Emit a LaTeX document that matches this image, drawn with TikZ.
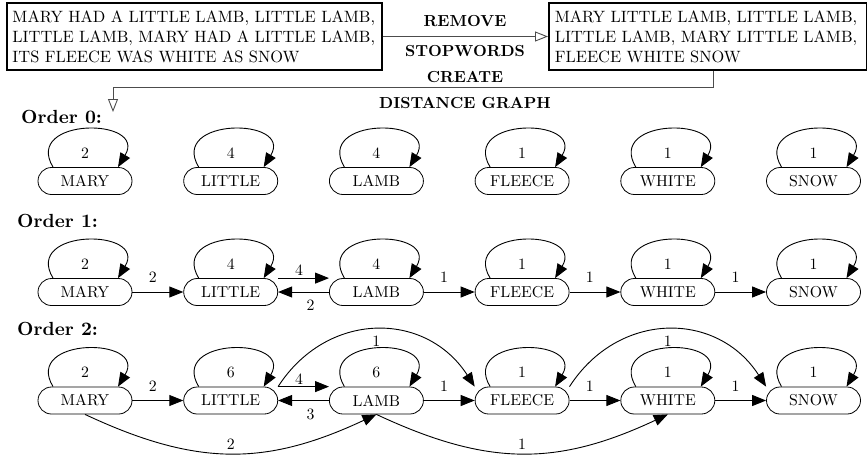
\documentclass[tikz,border=0pt]{standalone}
\usepackage{fontspec}
\setmainfont{lmroman10-regular.otf}[BoldFont=lmroman10-bold.otf]
\usetikzlibrary{arrows.meta}
\newcommand\selfloop[2]{%
  \draw[edge] ([xshift=-32pt]#1.north) .. controls +(-30,-50) and +(30,-50) .. ([xshift=33pt]#1.north);
  \node[lab] at ([yshift=28pt]#1.center) {#2};}
\begin{document}
\begin{tikzpicture}[x=1pt,y=-1pt,
  wn/.style={draw, line width=0.8pt, rounded corners=13.5pt, minimum width=94pt, minimum height=27pt, inner sep=0pt, font=\fontsize{15.8}{19}\selectfont},
  edge/.style={line width=0.9pt, -{Triangle[length=14pt,width=11pt]}},
  lab/.style={font=\fontsize{15.8}{19}\selectfont, inner sep=0pt},
  ord/.style={font=\fontsize{19}{22}\selectfont\bfseries, anchor=west, inner sep=0pt},
  stepl/.style={font=\fontsize{16}{19}\selectfont\bfseries, inner sep=0pt},
  tbox/.style={draw, line width=1.8pt, align=left, minimum height=67pt, font=\fontsize{16.4}{20}\selectfont},
  flow/.style={draw=black!70, line width=0.9pt, -{Triangle[open,length=13pt,width=10pt]}}
]
\useasboundingbox (0,0) rectangle (867,458);

% top boxes
\node[tbox, inner xsep=5.5pt, text width=364pt] (t1) at (194.5,36.5)
  {MARY HAD A LITTLE LAMB, LITTLE LAMB,\\LITTLE LAMB, MARY HAD A LITTLE LAMB,\\ITS FLEECE WAS WHITE AS SNOW};
\node[tbox, inner xsep=6pt, text width=306pt, anchor=west] (t2) at (548,36.5)
  {MARY LITTLE LAMB, LITTLE LAMB,\\LITTLE LAMB, MARY LITTLE LAMB,\\FLEECE WHITE SNOW};
\draw[flow] (t1) -- (t2);
\node[stepl] (s1) at (465,21) {REMOVE};
\node[stepl] (s2) at (465,51) {STOPWORDS};
\coordinate (c0) at (113,112);
\draw[flow] ([xshift=713pt]t2.south -| 0,0) -- ++(0,17) -| (c0);
\node[stepl] (s3) at (465,77) {CREATE};
\node[stepl] (s4) at (465,103) {DISTANCE GRAPH};

% order labels
\node[ord] (o0) at (21,117) {Order 0:};
\node[ord] (o1) at (17,221) {Order 1:};
\node[ord] (o2) at (17,329) {Order 2:};

% nodes
\foreach \r/\y in {0/181,1/292,2/400.5}{
  \node[wn] (mary\r)   at (85,\y)    {MARY};
  \node[wn] (little\r) at (230.7,\y) {LITTLE};
  \node[wn] (lamb\r)   at (376.4,\y) {LAMB};
  \node[wn] (fleece\r) at (522.1,\y) {FLEECE};
  \node[wn] (white\r)  at (667.8,\y) {WHITE};
  \node[wn] (snow\r)   at (813.5,\y) {SNOW};
}

% order 0 loops
\selfloop{mary0}{2}
\selfloop{little0}{4}
\selfloop{lamb0}{4}
\selfloop{fleece0}{1}
\selfloop{white0}{1}
\selfloop{snow0}{1}

% order 1
\selfloop{mary1}{2}
\selfloop{little1}{4}
\selfloop{lamb1}{4}
\selfloop{fleece1}{1}
\selfloop{white1}{1}
\selfloop{snow1}{1}
\draw[edge] (mary1) -- node[lab, pos=0.4, above=9pt] {2} (little1);
\draw[edge] (little1.north east) -- node[lab, pos=0.41, above=2pt] {4} (lamb1.north west);
\draw[edge] (lamb1) -- node[lab, pos=0.36, below=8pt] {2} (little1);
\draw[edge] (lamb1) -- node[lab, pos=0.4, above=9pt] {1} (fleece1);
\draw[edge] (fleece1) -- node[lab, pos=0.4, above=9pt] {1} (white1);
\draw[edge] (white1) -- node[lab, pos=0.4, above=9pt] {1} (snow1);

% order 2
\selfloop{mary2}{2}
\selfloop{little2}{6}
\selfloop{lamb2}{6}
\selfloop{fleece2}{1}
\selfloop{white2}{1}
\selfloop{snow2}{1}
\draw[edge] (mary2) -- node[lab, pos=0.4, above=9pt] {2} (little2);
\draw[edge] (little2.north east) -- node[lab, pos=0.41, above=2pt] {4} (lamb2.north west);
\draw[edge] (lamb2) -- node[lab, pos=0.36, below=8pt] {3} (little2);
\draw[edge] (lamb2) -- node[lab, pos=0.4, above=9pt] {1} (fleece2);
\draw[edge] (fleece2) -- node[lab, pos=0.4, above=9pt] {1} (white2);
\draw[edge] (white2) -- node[lab, pos=0.4, above=9pt] {1} (snow2);
\draw[edge] (little2.north east) .. controls +(49,-76) and +(-49,-76) .. node[lab, pos=0.5, below=6pt] {1} (fleece2.north west);
\draw[edge] (fleece2.north east) .. controls +(49,-76) and +(-49,-76) .. node[lab, pos=0.5, below=6pt] {1} (snow2.north west);
\draw[edge] (mary2.south) .. controls +(111,52) and +(-111,52) .. node[lab, pos=0.5, above=3pt] {2} (lamb2.south);
\draw[edge] (lamb2.south) .. controls +(111,52) and +(-111,52) .. node[lab, pos=0.5, above=3pt] {1} (white2.south);
\end{tikzpicture}
\end{document}
